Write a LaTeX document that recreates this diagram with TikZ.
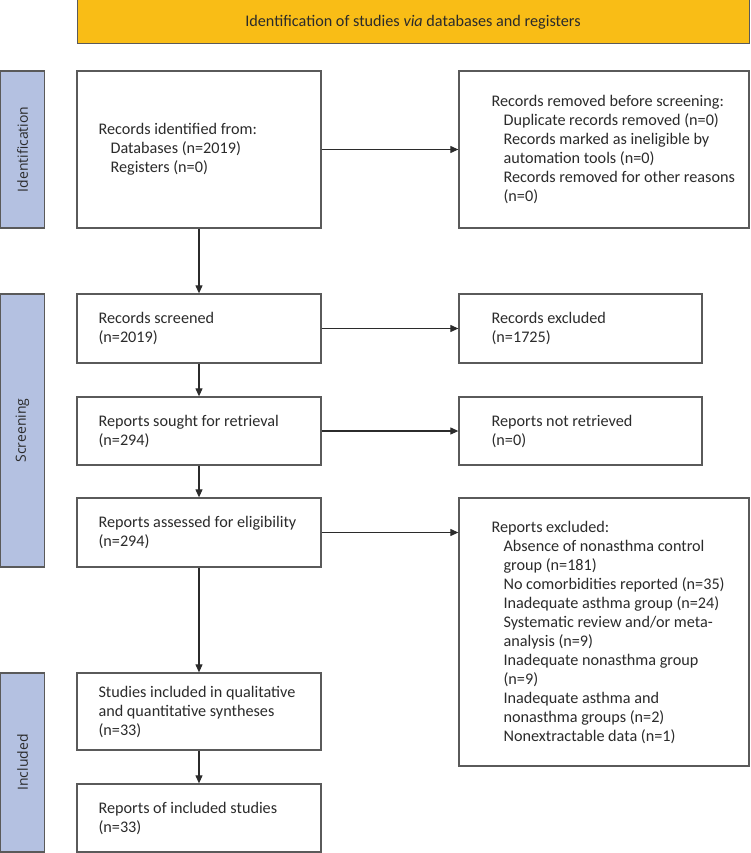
\documentclass[tikz,border=0pt]{standalone}
\usepackage{fontspec}
\setmainfont{Carlito}
\newfontfamily\sidefont{Open Sans}
\usetikzlibrary{arrows.meta}
\definecolor{hdrcol}{HTML}{F9BD16}
\definecolor{sidecol}{HTML}{B4C1E1}
\definecolor{edgecol}{HTML}{5A5A5A}
\definecolor{txtcol}{HTML}{2B2B2B}
\tikzset{
  box/.style={draw=edgecol, line width=1.3pt, fill=white, inner sep=0pt, rectangle},
  hdrbox/.style={draw=edgecol, line width=1pt, fill=hdrcol, inner sep=0pt, text=txtcol,
     font=\fontsize{16.2}{19}\selectfont},
  sidebox/.style={draw=edgecol, line width=1.3pt, fill=sidecol, inner sep=0pt, minimum width=44pt},
  sidetxt/.style={rotate=90, text=txtcol, font=\sidefont\fontsize{14}{16}\selectfont},
  txt/.style={align=left, anchor=west, inner sep=0pt, text=txtcol,
     font=\fontsize{16.2}{19}\selectfont},
  arr/.style={draw=txtcol, line width=1.1pt, -{Triangle[length=8pt,width=7pt]}},
}
\newcommand{\ind}{\hspace*{12pt}}
\begin{document}
\begin{tikzpicture}[x=1pt,y=-1pt]
\useasboundingbox (0,0) rectangle (750,853);
% header
\node[hdrbox, minimum width=672pt, minimum height=44pt] (hdr) at (413,22)
  {Identification of studies \textit{via} databases and registers};
% side labels
\node[sidebox, minimum height=157pt] (sid) at (22.5,149.5) {};
\node[sidetxt] (sidt) at (sid.center) {Identification};
\node[sidebox, minimum height=273pt] (sscr) at (22.5,430.5) {};
\node[sidetxt] (sscrt) at (sscr.center) {Screening};
\node[sidebox, minimum height=179pt] (sinc) at (22.5,762.5) {};
\node[sidetxt] (sinct) at (sinc.center) {Included};
% left column
\node[box, minimum width=244pt, minimum height=157pt] (id) at (199,149.5) {};
\node[txt] (idt) at ([xshift=22pt]id.west)
  {Records identified from:\\\ind Databases (n=2019)\\\ind Registers (n=0)};
\node[box, minimum width=244pt, minimum height=69pt] (scr) at (199,328.5) {};
\node[txt] (scrt) at ([xshift=22pt]scr.west) {Records screened\\(n=2019)};
\node[box, minimum width=244pt, minimum height=68pt] (sou) at (199,431) {};
\node[txt] (sout) at ([xshift=22pt]sou.west) {Reports sought for retrieval\\(n=294)};
\node[box, minimum width=244pt, minimum height=69pt] (ass) at (199,532.5) {};
\node[txt] (asst) at ([xshift=22pt]ass.west) {Reports assessed for eligibility\\(n=294)};
\node[box, minimum width=244pt, minimum height=77pt] (inc) at (199,711.5) {};
\node[txt] (inct) at ([xshift=22pt]inc.west)
  {Studies included in qualitative\\and quantitative syntheses\\(n=33)};
\node[box, minimum width=244pt, minimum height=68pt] (rep) at (199,818) {};
\node[txt] (rept) at ([xshift=22pt]rep.west) {Reports of included studies\\(n=33)};
% right column
\node[box, minimum width=290pt, minimum height=157pt] (rem) at (604,149.5) {};
\node[txt] (remt) at ([xshift=33pt]rem.west)
  {Records removed before screening:\\\ind Duplicate records removed (n=0)\\\ind Records marked as ineligible by\\\ind automation tools (n=0)\\\ind Records removed for other reasons\\\ind (n=0)};
\node[box, minimum width=243pt, minimum height=69pt] (exc) at (580.5,328.5) {};
\node[txt] (exct) at ([xshift=33pt]exc.west) {Records excluded\\(n=1725)};
\node[box, minimum width=243pt, minimum height=68pt] (nr) at (580.5,431) {};
\node[txt] (nrt) at ([xshift=33pt]nr.west) {Reports not retrieved\\(n=0)};
\node[box, minimum width=290pt, minimum height=268pt] (rx) at (604,632) {};
\node[txt] (rxt) at ([xshift=33pt]rx.west)
  {Reports excluded:\\\ind Absence of nonasthma control\\\ind group (n=181)\\\ind No comorbidities reported (n=35)\\\ind Inadequate asthma group (n=24)\\\ind Systematic review and/or meta-\\\ind analysis (n=9)\\\ind Inadequate nonasthma group\\\ind (n=9)\\\ind Inadequate asthma and\\\ind nonasthma groups (n=2)\\\ind Nonextractable data (n=1)};
% arrows
\draw[arr] (id.south) -- (scr.north);
\draw[arr] (scr.south) -- (sou.north);
\draw[arr] (sou.south) -- (ass.north);
\draw[arr] (ass.south) -- (inc.north);
\draw[arr] (inc.south) -- (rep.north);
\draw[arr] (id.east) -- (id.east -| rem.west);
\draw[arr] (scr.east) -- (scr.east -| exc.west);
\draw[arr] (sou.east) -- (sou.east -| nr.west);
\draw[arr] (ass.east) -- (ass.east -| rx.west);
\end{tikzpicture}
\end{document}
